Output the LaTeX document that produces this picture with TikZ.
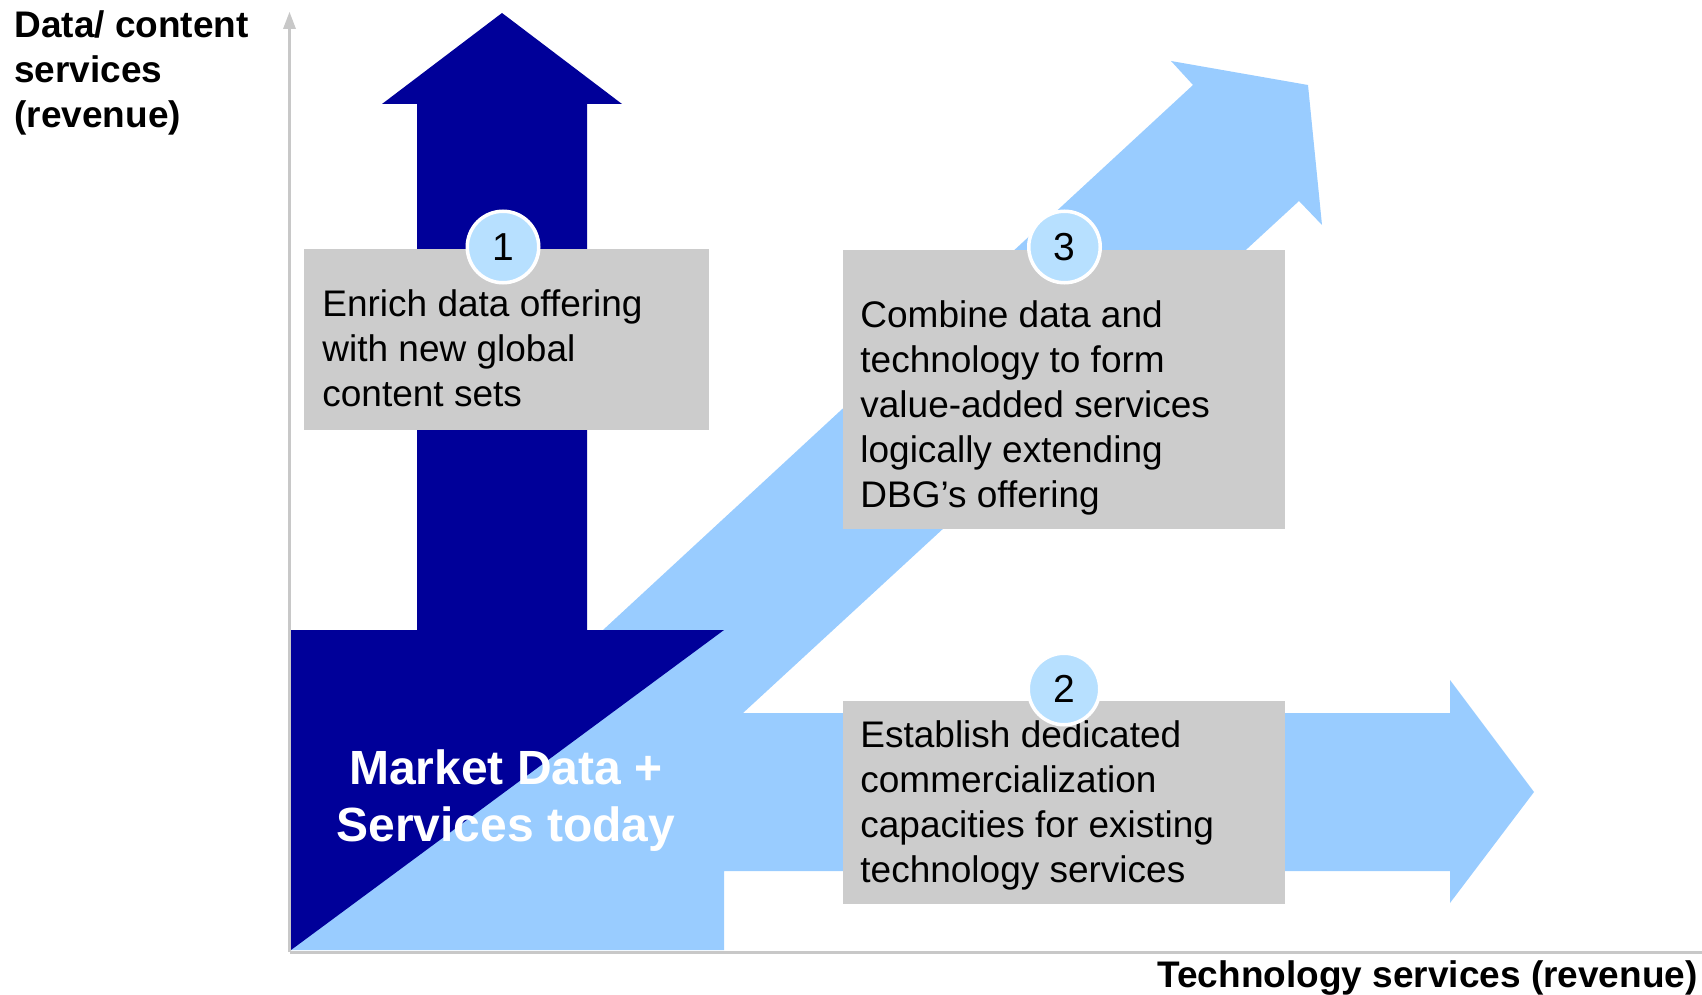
\documentclass[tikz,border=0pt]{standalone}
\usepackage{fontspec}
\setmainfont{Liberation Sans}
\definecolor{darkblue}{HTML}{000099}
\definecolor{lightblue}{HTML}{99CCFF}
\definecolor{boxgray}{HTML}{CCCCCC}
\definecolor{circfill}{HTML}{B7E0FF}
\definecolor{axisgray}{HTML}{C8C8C8}
\begin{document}
\begin{tikzpicture}[x=0.5pt,y=-0.5pt,
  boxstyle/.style={fill=boxgray, draw=none, inner sep=0pt, anchor=north west},
  bodytext/.style={font=\fontsize{18.5}{22.5}\selectfont, align=left, inner sep=0pt, anchor=north west, text=black},
  axislabel/.style={font=\bfseries\fontsize{18.5}{22.5}\selectfont, align=left, inner sep=0pt, text=black},
  numcircle/.style={circle, fill=circfill, draw=white, line width=1.75pt, minimum size=35.75pt, inner sep=0pt, font=\fontsize{19.5}{22}\selectfont, text=black},
  axisline/.style={draw=axisgray, line width=1.5pt}
]
\useasboundingbox (0,0) rectangle (1702,995);

% axes
\coordinate (origin) at (289.5,952);
\coordinate (ytop) at (289.5,28);
\coordinate (xend) at (1702,952);
\draw[axisline] (origin) -- (ytop);
\draw[axisline] (origin) -- (xend);
\fill[axisgray] (289.5,12) -- (283,29) -- (296,29) -- cycle;

% light blue arrows (diagonal + horizontal + base)
\fill[lightblue] (291,950) -- (603,630) -- (1193,85) -- (1171,61) -- (1308,85)
  -- (1322,225) -- (1299,201) -- (743,713) -- (1450,713) -- (1450,680)
  -- (1534,792) -- (1450,903) -- (1450,871) -- (724,871) -- (724,950) -- cycle;

% dark blue up arrow with base
\fill[darkblue] (291,950) -- (291,630) -- (417,630) -- (417,104) -- (382,104)
  -- (502,13) -- (622,104) -- (587,104) -- (587,630) -- (724,630) -- cycle;

% centre label
\node[font=\bfseries\fontsize{24}{28.5}\selectfont, align=center, inner sep=0pt, text=white, anchor=north] (today) at (506,744) {\strut Market Data +\\Services today};

% boxes
\node[boxstyle, minimum width=202.5pt, minimum height=90.5pt] (box1) at (304,249) {};
\node[boxstyle, minimum width=221pt, minimum height=139.5pt] (box3) at (843,250) {};
\node[boxstyle, minimum width=221pt, minimum height=101.5pt] (box2) at (843,701) {};

\node[bodytext] (t1) at (322,284.5) {\strut Enrich data offering\\with new global\\content sets};
\node[bodytext] (t3) at (860,295.5) {\strut Combine data and\\technology to form\\value-added services\\logically extending\\DBG’s offering};
\node[bodytext] (t2) at (860,715.5) {\strut Establish dedicated\\commercialization\\capacities for existing\\technology services};

% number circles
\node[numcircle] (c1) at (503,247) {1};
\node[numcircle] (c3) at (1064.5,247) {3};
\node[numcircle] (c2) at (1064,689) {2};

% axis labels
\node[axislabel, anchor=north west] (ylab) at (14,5.5) {\strut Data/ content\\services\\(revenue)};
\node[axislabel, anchor=base east] (xlab) at (1698,987) {Technology services (revenue)};
\end{tikzpicture}
\end{document}
